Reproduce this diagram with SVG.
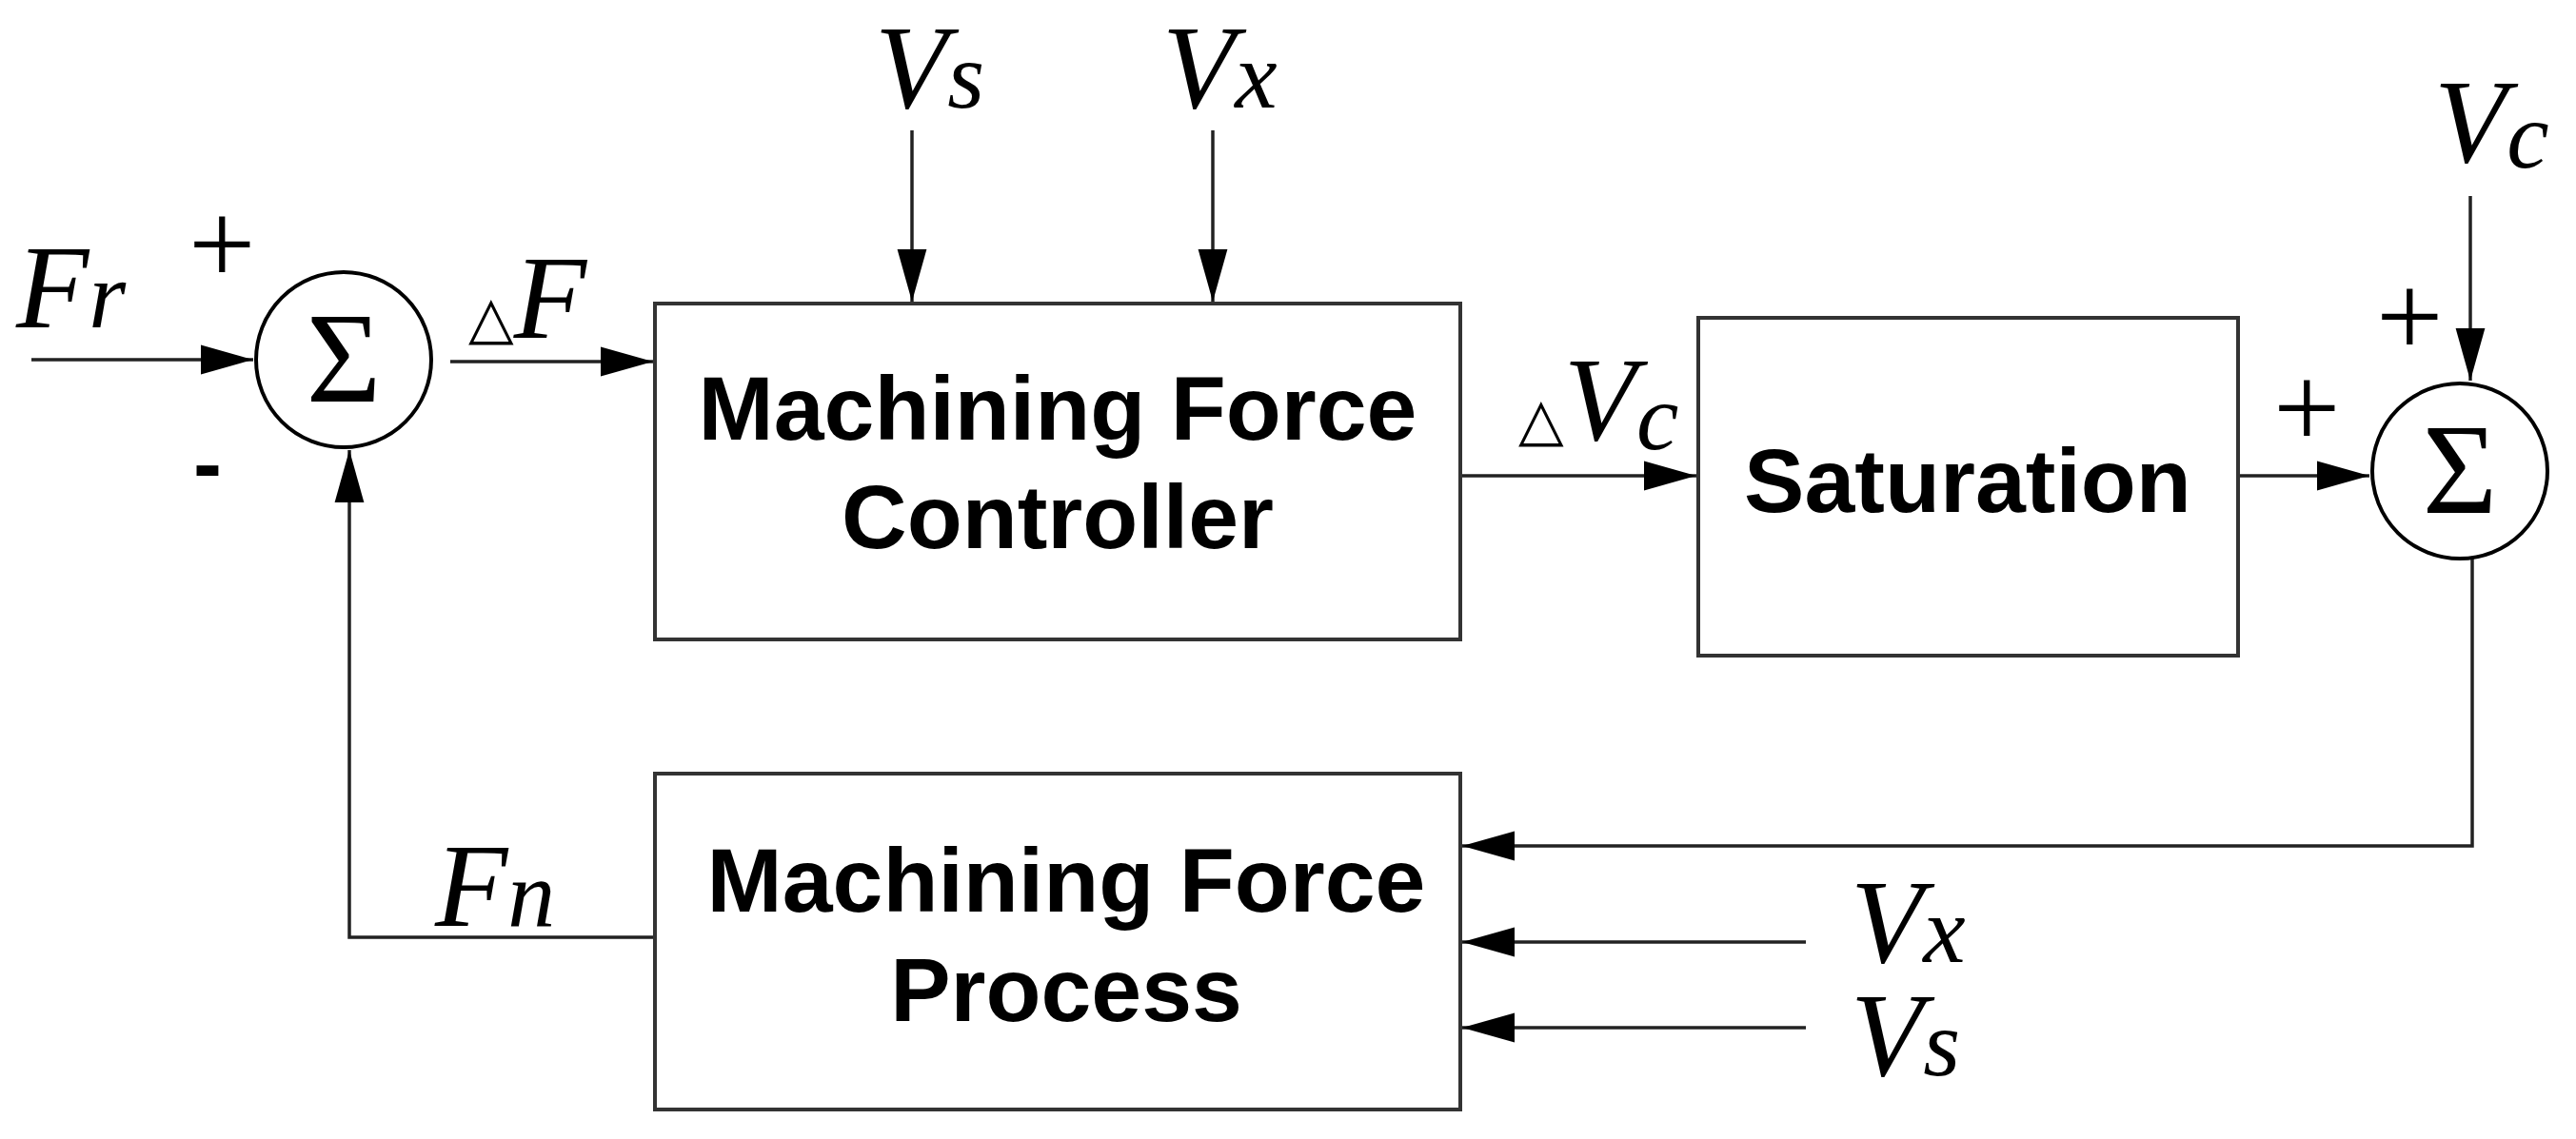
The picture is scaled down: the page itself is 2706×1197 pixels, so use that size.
<svg xmlns="http://www.w3.org/2000/svg" width="2706" height="1197" viewBox="0 0 2706 1197">
<style>
.box{fill:#fff;stroke:#333;stroke-width:4}
.sum{fill:#fff;stroke:#000;stroke-width:4}
.ln{fill:none;stroke:#222;stroke-width:3.5}
.bt{font-family:"Liberation Sans",Arial,sans-serif;font-weight:bold;font-size:95px;text-anchor:middle;fill:#000}
.m{font-family:"Liberation Serif","Times New Roman",serif;font-style:italic;font-size:125px;fill:#000}
.s{font-size:100px}
.p{font-family:"Liberation Serif",serif;font-size:125px;fill:#000}
.mi{font-family:"Liberation Sans",sans-serif;font-weight:bold;font-size:90px;fill:#000}
.sg{font-family:"Liberation Serif",serif;font-size:135px;text-anchor:middle;fill:#000}
.tr{font-family:"DejaVu Sans",sans-serif;font-style:normal;font-size:62px}
</style>
<defs>
<marker id="b" viewBox="0 0 10 10" refX="10" refY="5" markerWidth="55" markerHeight="55" markerUnits="userSpaceOnUse" orient="auto"><path d="M0,2.2L10,5L0,7.8z" fill="#000"/></marker>
</defs>
<g id="connectors">
<path class="ln" d="M33,378H266" marker-end="url(#b)"/>
<path class="ln" d="M473,380H686" marker-end="url(#b)"/>
<path class="ln" d="M958,137V317" marker-end="url(#b)"/>
<path class="ln" d="M1274,137V317" marker-end="url(#b)"/>
<path class="ln" d="M1536,500H1782" marker-end="url(#b)"/>
<path class="ln" d="M2353,500H2489" marker-end="url(#b)"/>
<path class="ln" d="M2595,206V400" marker-end="url(#b)"/>
<path class="ln" d="M2597,545V889H1536" marker-end="url(#b)"/>
<path class="ln" d="M1897,990H1536" marker-end="url(#b)"/>
<path class="ln" d="M1897,1080H1536" marker-end="url(#b)"/>
<path class="ln" d="M688,985H367V473" marker-end="url(#b)"/>
</g>
<g id="sum1"><circle class="sum" cx="361" cy="378" r="92"/><text class="sg" x="361" y="422">Σ</text></g>
<g id="sum2"><circle class="sum" cx="2584" cy="495" r="92"/><text class="sg" x="2584" y="539">Σ</text></g>
<g id="controller"><rect class="box" x="688" y="319" width="846" height="353"/>
<text class="bt" x="1111" y="462">Machining Force</text><text class="bt" x="1111" y="576">Controller</text></g>
<g id="saturation"><rect class="box" x="1784" y="334" width="567" height="355"/>
<text class="bt" x="2067" y="538">Saturation</text></g>
<g id="process"><rect class="box" x="688" y="813" width="846" height="353"/>
<text class="bt" x="1120" y="958">Machining Force</text><text class="bt" x="1120" y="1073">Process</text></g>
<g id="labels">
<text class="m" x="17" y="344">F<tspan class="s">r</tspan></text>
<text class="p" x="198" y="298">+</text>
<text class="mi" x="203" y="518">-</text>
<text class="m" x="492" y="355"><tspan class="tr">△</tspan>F</text>
<text class="m" x="919" y="113">V<tspan class="s">s</tspan></text>
<text class="m" x="1221" y="113">V<tspan class="s">x</tspan></text>
<text class="m" x="1595" y="462"><tspan class="tr">△</tspan>V<tspan class="s" dy="10">c</tspan></text>
<text class="m" x="2557" y="170">V<tspan class="s" dy="6">c</tspan></text>
<text class="p" x="2496" y="374">+</text>
<text class="p" x="2388" y="470">+</text>
<text class="m" x="457" y="973">F<tspan class="s">n</tspan></text>
<text class="m" x="1944" y="1011">V<tspan class="s">x</tspan></text>
<text class="m" x="1944" y="1130">V<tspan class="s">s</tspan></text>
</g>
</svg>
